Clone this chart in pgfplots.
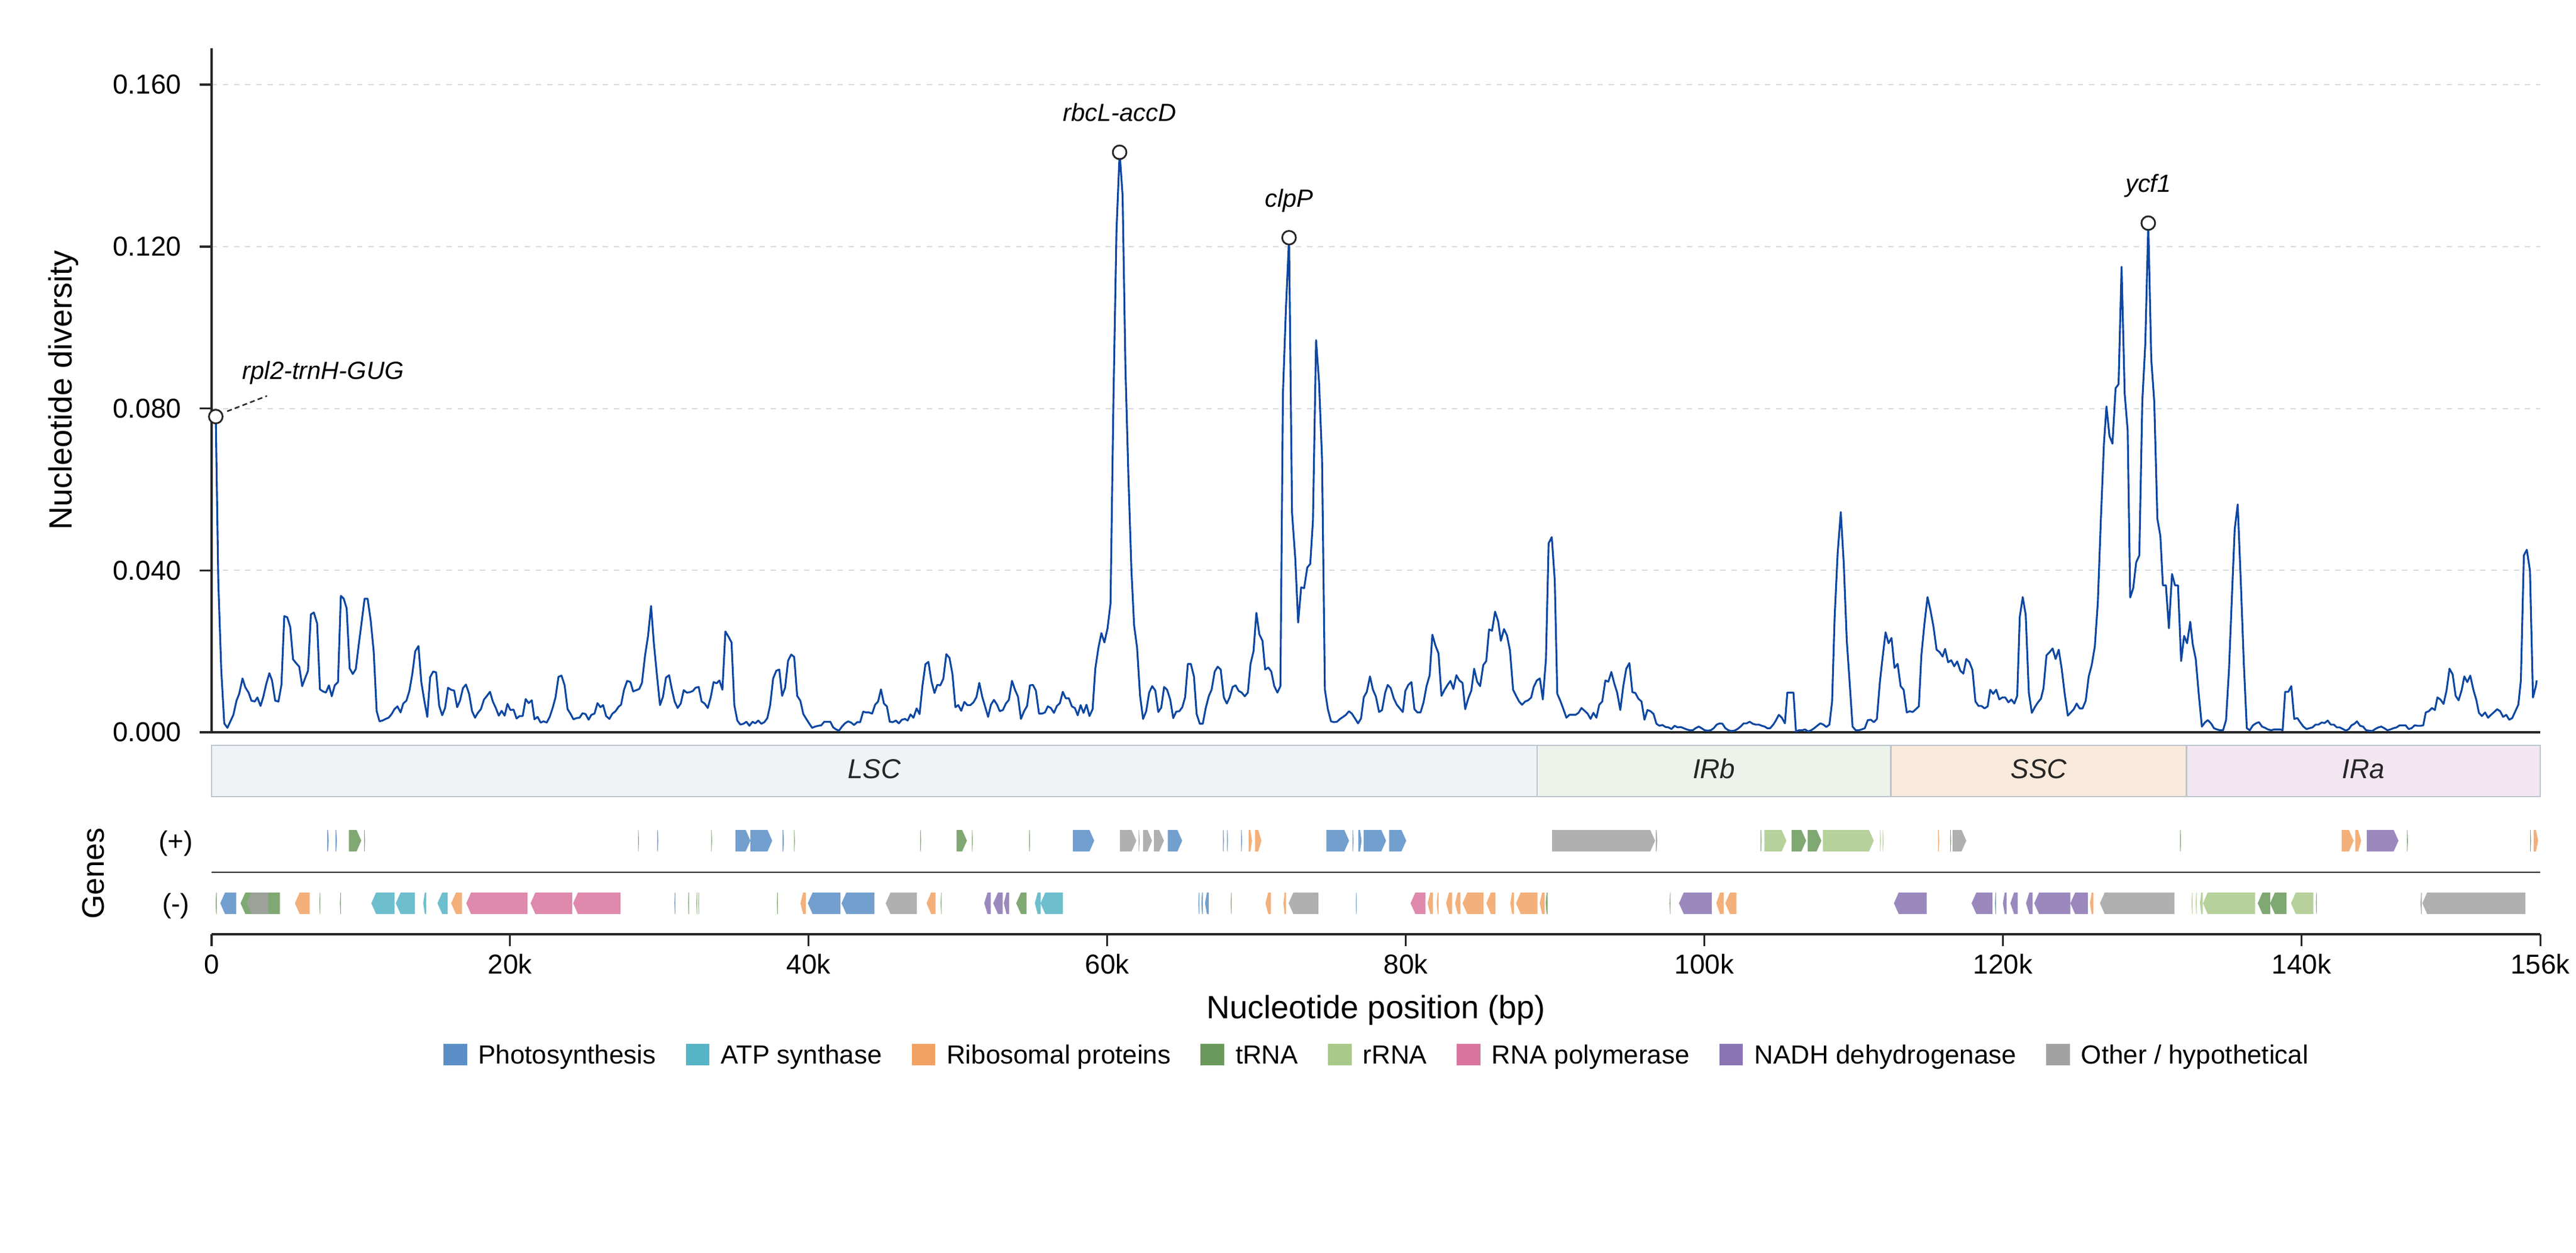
\documentclass[border=0pt]{standalone}
\usepackage{fontspec}
\setmainfont{Liberation Sans}
\usepackage{pgfplots}
\pgfplotsset{compat=1.18}

\definecolor{cLine}{HTML}{0D47A1}
\definecolor{cAxis}{HTML}{262626}
\definecolor{cGrid}{HTML}{D5DBE2}
\definecolor{cReg}{HTML}{BCC5CE}
\definecolor{rLSC}{HTML}{EFF3F6}
\definecolor{rIRb}{HTML}{EDF2EA}
\definecolor{rSSC}{HTML}{F9EADB}
\definecolor{rIRa}{HTML}{F2E7F1}
\definecolor{cPho}{HTML}{5B8EC6}
\definecolor{cAtp}{HTML}{55B4C5}
\definecolor{cRib}{HTML}{F1A263}
\definecolor{cTrn}{HTML}{6A995B}
\definecolor{cRrn}{HTML}{A9C98A}
\definecolor{cRpo}{HTML}{D9749F}
\definecolor{cNad}{HTML}{8A74B3}
\definecolor{cOth}{HTML}{A2A2A2}

% gene arrows: start (kb), end (kb), colour
\newcommand\gp[3]{%
  \pgfmathsetmacro\gt{#2-min(0.32,0.5*(#2-#1))}%
  \edef\temp{\noexpand\addplot[fill=#3, draw=none, fill opacity=0.85, forget plot]
    coordinates {(#1,139) (\gt,139) (#2,157) (\gt,175) (#1,175)} -- cycle;}%
  \temp}
\newcommand\gm[3]{%
  \pgfmathsetmacro\gt{#1+min(0.32,0.5*(#2-#1))}%
  \edef\temp{\noexpand\addplot[fill=#3, draw=none, fill opacity=0.85, forget plot]
    coordinates {(#2,34) (\gt,34) (#1,52) (\gt,70) (#2,70)} -- cycle;}%
  \temp}

\begin{document}
\begin{tikzpicture}
\useasboundingbox (0,0) rectangle (1037.28pt,504.48pt);

% ---- nucleotide diversity ----
\begin{axis}[
    at={(85.2pt,209.52pt)}, anchor=south west, scale only axis,
    width=937.68pt, height=275.52pt,
    xmin=0, xmax=156, ymin=0, ymax=0.169,
    axis x line*=bottom, axis y line*=left,
    axis line style={cAxis, line width=0.8pt},
    xtick=\empty,
    ytick={0,0.04,0.08,0.12,0.16},
    yticklabels={0.000,0.040,0.080,0.120,0.160},
    tick align=outside, major tick length=4.8pt,
    ytick style={cAxis, line width=0.8pt},
    yticklabel style={font=\fontsize{11}{13}\selectfont, anchor=east, inner sep=0pt, xshift=-7.2pt},
    ymajorgrids, grid style={cGrid, line width=0.5pt, dash pattern=on 2.2pt off 2.3pt},
    ylabel={Nucleotide diversity},
    every axis y label/.style={at={(axis description cs:-0.0635,0.5)}, rotate=90, anchor=center, font=\fontsize{13}{15}\selectfont},
    clip=false,
]
\addplot[cLine, line width=0.75pt, line join=round] coordinates {
(0.28,0.078) (0.45,0.037) (0.65,0.0152) (0.85,0.0022) (1.06,0.0011) (1.26,0.0027) (1.46,0.0043) (1.67,0.0078) (1.85,0.0095) (2.07,0.0133)
(2.26,0.0111) (2.48,0.0098) (2.67,0.0078) (2.89,0.0076) (3.07,0.0086) (3.28,0.0065) (3.46,0.0087) (3.66,0.0119) (3.87,0.0146) (4.05,0.0128)
(4.26,0.0078) (4.48,0.0076) (4.68,0.0117) (4.87,0.0287) (5.07,0.0284) (5.27,0.026) (5.46,0.018) (5.66,0.0171) (5.87,0.0162) (6.07,0.0114)
(6.26,0.0133) (6.46,0.0152) (6.65,0.0291) (6.85,0.0296) (7.07,0.0269) (7.26,0.0106) (7.46,0.0101) (7.66,0.0098) (7.86,0.0116) (8.05,0.0089)
(8.25,0.0116) (8.47,0.0124) (8.66,0.0337) (8.85,0.033) (9.05,0.0306) (9.25,0.0158) (9.46,0.0144) (9.66,0.0156) (9.85,0.0214) (10.05,0.0271)
(10.25,0.033) (10.45,0.033) (10.66,0.0276) (10.86,0.02) (11.06,0.0052) (11.25,0.0027) (11.45,0.0029) (11.66,0.0033) (11.86,0.0036) (12.06,0.0045)
(12.25,0.0057) (12.45,0.0064) (12.66,0.0049) (12.84,0.0071) (13.05,0.0078) (13.25,0.0102) (13.45,0.0145) (13.64,0.02) (13.86,0.0213) (14.05,0.0124)
(14.25,0.0078) (14.45,0.0038) (14.64,0.0136) (14.84,0.015) (15.04,0.0148) (15.25,0.0065) (15.45,0.0042) (15.64,0.006) (15.84,0.011) (16.04,0.0105)
(16.25,0.0103) (16.45,0.0062) (16.64,0.0078) (16.84,0.0109) (17.04,0.0118) (17.25,0.0095) (17.45,0.0052) (17.65,0.0036) (17.84,0.0048) (18.04,0.0057)
(18.25,0.0081) (18.45,0.009) (18.65,0.01) (18.84,0.0076) (19.04,0.006) (19.24,0.0041) (19.43,0.0053) (19.63,0.0041) (19.82,0.007) (20.02,0.0055)
(20.23,0.0056) (20.43,0.0034) (20.63,0.004) (20.84,0.004) (21.04,0.0082) (21.24,0.0072) (21.45,0.0079) (21.63,0.0032) (21.84,0.0038) (22.04,0.0024)
(22.24,0.0027) (22.45,0.0024) (22.65,0.0038) (22.84,0.0059) (23.04,0.0086) (23.24,0.0137) (23.44,0.014) (23.65,0.0116) (23.85,0.0057) (24.04,0.0046)
(24.24,0.0032) (24.44,0.0035) (24.65,0.0036) (24.85,0.0047) (25.05,0.0045) (25.26,0.0031) (25.44,0.0043) (25.65,0.0046) (25.85,0.0072) (26.05,0.0062)
(26.23,0.0067) (26.43,0.004) (26.65,0.0033) (26.85,0.0046) (27.06,0.0052) (27.26,0.0063) (27.43,0.0068) (27.63,0.0105) (27.84,0.0127) (28.06,0.0124)
(28.24,0.0101) (28.45,0.0104) (28.65,0.0107) (28.83,0.0122) (29.04,0.019) (29.24,0.0238) (29.44,0.0312) (29.63,0.0219) (29.83,0.0143) (30.04,0.0067)
(30.24,0.0088) (30.44,0.0135) (30.65,0.0141) (30.83,0.0107) (31.02,0.0076) (31.22,0.006) (31.43,0.0071) (31.63,0.0104) (31.83,0.0098) (32.04,0.0099)
(32.24,0.0102) (32.42,0.011) (32.63,0.0112) (32.83,0.0076) (33.03,0.0071) (33.24,0.006) (33.44,0.0087) (33.63,0.0124) (33.83,0.0121) (34.02,0.0128)
(34.22,0.0105) (34.42,0.0249) (34.63,0.0236) (34.83,0.0222) (35.02,0.0067) (35.22,0.0029) (35.42,0.0019) (35.63,0.0021) (35.83,0.0026) (36.03,0.0016)
(36.24,0.0026) (36.42,0.0022) (36.62,0.0029) (36.83,0.0021) (37.03,0.0025) (37.23,0.0035) (37.42,0.0067) (37.62,0.0133) (37.83,0.0152) (38.03,0.0155)
(38.22,0.009) (38.42,0.011) (38.62,0.0177) (38.83,0.0192) (39.03,0.0186) (39.23,0.009) (39.44,0.0078) (39.64,0.0045) (39.84,0.0033) (40.03,0.0022)
(40.23,0.0011) (40.43,0.0014) (40.64,0.0016) (40.84,0.0017) (41.04,0.0026) (41.25,0.0026) (41.45,0.0026) (41.64,0.0012) (41.84,0.0007) (42.03,0.0004)
(42.23,0.0014) (42.43,0.0022) (42.64,0.0027) (42.84,0.0024) (43.04,0.0018) (43.25,0.0025) (43.45,0.0025) (43.65,0.0051) (43.84,0.0049) (44.04,0.0049)
(44.25,0.0046) (44.45,0.0068) (44.65,0.0076) (44.84,0.0106) (45.04,0.0071) (45.24,0.0064) (45.43,0.0026) (45.63,0.0025) (45.84,0.0029) (46.04,0.0022)
(46.24,0.0031) (46.45,0.0033) (46.63,0.0029) (46.82,0.0044) (47.02,0.0036) (47.23,0.0059) (47.43,0.0045) (47.62,0.0114) (47.82,0.0168) (48.02,0.0174)
(48.23,0.0125) (48.43,0.0097) (48.61,0.0117) (48.82,0.0116) (49.02,0.0132) (49.22,0.0193) (49.43,0.0184) (49.63,0.0144) (49.83,0.0062) (50.02,0.0067)
(50.22,0.0053) (50.43,0.0075) (50.63,0.0067) (50.83,0.0067) (51.04,0.0074) (51.24,0.0087) (51.43,0.0122) (51.63,0.0087) (51.83,0.0062) (52.02,0.0038)
(52.21,0.0068) (52.41,0.008) (52.62,0.0068) (52.8,0.0052) (53.01,0.0055) (53.21,0.0071) (53.41,0.008) (53.62,0.0127) (53.82,0.0105) (54.02,0.0088)
(54.22,0.0033) (54.43,0.0052) (54.63,0.0065) (54.82,0.0116) (55.02,0.0117) (55.22,0.0103) (55.43,0.0046) (55.63,0.0046) (55.83,0.0049) (56.02,0.0064)
(56.22,0.006) (56.43,0.0048) (56.63,0.0065) (56.83,0.0072) (57.02,0.01) (57.22,0.0084) (57.43,0.0084) (57.63,0.0064) (57.83,0.006) (58.02,0.0042)
(58.22,0.0067) (58.41,0.0048) (58.61,0.0068) (58.81,0.004) (59.02,0.0057) (59.2,0.0157) (59.41,0.0209) (59.61,0.0245) (59.81,0.0222) (60.02,0.0257)
(60.22,0.0318) (60.42,0.083) (60.62,0.124) (60.83,0.1433) (61.03,0.1325) (61.22,0.09) (61.42,0.063) (61.62,0.04) (61.8,0.0264) (62.0,0.0209)
(62.2,0.009) (62.4,0.0033) (62.61,0.0052) (62.81,0.0098) (63.01,0.0114) (63.22,0.0103) (63.42,0.005) (63.62,0.0061) (63.81,0.0112) (64.01,0.0105)
(64.22,0.0081) (64.42,0.0035) (64.62,0.0051) (64.83,0.0052) (65.03,0.0062) (65.22,0.0087) (65.4,0.0169) (65.6,0.0169) (65.81,0.0138) (65.99,0.0045)
(66.2,0.0021) (66.4,0.0021) (66.6,0.006) (66.81,0.009) (66.99,0.0105) (67.2,0.015) (67.4,0.0162) (67.6,0.0155) (67.81,0.0086) (68.01,0.0071)
(68.2,0.0086) (68.4,0.0112) (68.6,0.0116) (68.81,0.0102) (69.01,0.0098) (69.21,0.0089) (69.42,0.0098) (69.6,0.0169) (69.8,0.02) (69.99,0.0295)
(70.19,0.0242) (70.4,0.0226) (70.58,0.0155) (70.79,0.016) (70.99,0.015) (71.19,0.0114) (71.4,0.0098) (71.6,0.0114) (71.77,0.0836) (71.97,0.1045)
(72.18,0.1222) (72.38,0.0542) (72.6,0.0428) (72.79,0.0271) (72.99,0.0358) (73.19,0.0356) (73.4,0.0407) (73.6,0.0416) (73.78,0.0523) (73.99,0.0969)
(74.19,0.0865) (74.39,0.0675) (74.58,0.0105) (74.78,0.0057) (74.99,0.0027) (75.19,0.0025) (75.39,0.0026) (75.6,0.0033) (75.8,0.0038) (75.99,0.0043)
(76.19,0.0052) (76.39,0.0046) (76.6,0.0034) (76.8,0.0022) (77.0,0.0034) (77.19,0.0087) (77.39,0.01) (77.6,0.0138) (77.8,0.0105) (78.0,0.0088)
(78.21,0.005) (78.41,0.0055) (78.62,0.0098) (78.79,0.0117) (78.99,0.0109) (79.19,0.0084) (79.4,0.0068) (79.6,0.0059) (79.8,0.005) (79.97,0.0102)
(80.17,0.0117) (80.38,0.0124) (80.58,0.0057) (80.78,0.0049) (80.99,0.0049) (81.19,0.0074) (81.39,0.0114) (81.6,0.0141) (81.78,0.0241) (81.99,0.0214)
(82.19,0.0195) (82.39,0.009) (82.6,0.0105) (82.8,0.0117) (82.99,0.0127) (83.19,0.0107) (83.39,0.0141) (83.59,0.0128) (83.8,0.0122) (83.98,0.0057)
(84.19,0.0084) (84.39,0.0103) (84.58,0.0157) (84.78,0.0125) (84.98,0.0114) (85.19,0.0166) (85.39,0.0176) (85.58,0.0254) (85.78,0.0251) (85.98,0.0298)
(86.19,0.0274) (86.37,0.0226) (86.58,0.0255) (86.78,0.0239) (86.98,0.0202) (87.19,0.0105) (87.39,0.009) (87.59,0.0076) (87.79,0.0068) (88.0,0.0076)
(88.2,0.0079) (88.4,0.0086) (88.57,0.0112) (88.78,0.0128) (88.98,0.0133) (89.18,0.0081) (89.39,0.0181) (89.57,0.0467) (89.78,0.0482) (89.98,0.0375)
(90.15,0.0095) (90.35,0.0078) (90.56,0.0057) (90.76,0.0036) (90.96,0.0043) (91.17,0.0043) (91.37,0.0043) (91.57,0.0048) (91.77,0.006) (91.98,0.0053)
(92.18,0.0046) (92.38,0.0033) (92.57,0.0048) (92.77,0.0036) (92.96,0.0068) (93.16,0.0076) (93.37,0.0128) (93.57,0.0125) (93.77,0.0149) (93.98,0.0119)
(94.16,0.0098) (94.37,0.0055) (94.57,0.0114) (94.77,0.0157) (94.98,0.0171) (95.18,0.0099) (95.38,0.0097) (95.58,0.0083) (95.79,0.0076) (95.99,0.0031)
(96.19,0.0055) (96.4,0.0052) (96.6,0.0045) (96.79,0.0021) (96.99,0.0016) (97.19,0.0018) (97.4,0.0013) (97.6,0.0012) (97.8,0.0008) (98.01,0.0016)
(98.21,0.0012) (98.41,0.0013) (98.62,0.001) (98.82,0.0007) (99.02,0.0005) (99.23,0.0005) (99.41,0.001) (99.62,0.0014) (99.82,0.001) (100.02,0.0005)
(100.22,0.0004) (100.43,0.0005) (100.63,0.001) (100.83,0.0019) (101.04,0.0022) (101.21,0.0021) (101.41,0.001) (101.61,0.0005) (101.82,0.0003) (102.02,0.0004)
(102.22,0.0008) (102.43,0.0014) (102.63,0.0022) (102.83,0.0022) (103.04,0.0026) (103.24,0.0021) (103.44,0.0019) (103.65,0.0019) (103.85,0.0016) (104.05,0.0014)
(104.21,0.001) (104.41,0.001) (104.62,0.0019) (104.79,0.0029) (104.99,0.0043) (105.19,0.0036) (105.4,0.0022) (105.56,0.0098) (105.77,0.0098) (105.97,0.0098)
(106.14,0.0002) (106.34,0.0005) (106.55,0.0005) (106.75,0.0007) (106.95,0.0002) (107.16,0.0005) (107.36,0.001) (107.56,0.0016) (107.77,0.0022) (107.97,0.0019)
(108.17,0.0013) (108.38,0.0019) (108.56,0.0076) (108.73,0.0285) (108.93,0.0442) (109.14,0.0544) (109.34,0.0418) (109.54,0.0228) (109.75,0.0114) (109.93,0.0014)
(110.14,0.0005) (110.34,0.0005) (110.54,0.0007) (110.75,0.001) (110.95,0.003) (111.15,0.0031) (111.36,0.0025) (111.56,0.0033) (111.76,0.0124) (111.93,0.0181)
(112.14,0.0247) (112.34,0.022) (112.54,0.0233) (112.74,0.0159) (112.95,0.0169) (113.15,0.0114) (113.35,0.0105) (113.56,0.0049) (113.76,0.0052) (113.96,0.005)
(114.17,0.0057) (114.37,0.0064) (114.54,0.019) (114.74,0.0266) (114.95,0.0334) (115.15,0.0301) (115.35,0.0261) (115.56,0.0204) (115.76,0.0198) (115.96,0.0187)
(116.13,0.0206) (116.33,0.0173) (116.54,0.0178) (116.74,0.0163) (116.94,0.0175) (117.15,0.0152) (117.35,0.0145) (117.55,0.0181) (117.76,0.0173) (117.96,0.0154)
(118.16,0.0076) (118.37,0.0065) (118.57,0.0065) (118.77,0.0059) (118.98,0.0064) (119.15,0.0105) (119.35,0.0095) (119.55,0.0105) (119.76,0.0081) (119.96,0.0086)
(120.16,0.0086) (120.37,0.0074) (120.57,0.0081) (120.77,0.0071) (120.96,0.009) (121.13,0.0285) (121.33,0.0334) (121.53,0.029) (121.74,0.0097) (121.94,0.0048)
(122.14,0.0062) (122.35,0.0074) (122.55,0.0083) (122.72,0.0109) (122.92,0.019) (123.13,0.0198) (123.33,0.0207) (123.53,0.0181) (123.74,0.0204) (123.94,0.0157)
(124.14,0.0095) (124.35,0.0041) (124.55,0.0049) (124.75,0.0057) (124.94,0.0071) (125.14,0.0059) (125.34,0.0059) (125.55,0.0078) (125.75,0.0138) (125.95,0.0166)
(126.16,0.0212) (126.36,0.0321) (126.56,0.0523) (126.77,0.0713) (126.94,0.0805) (127.14,0.0732) (127.34,0.0713) (127.55,0.085) (127.75,0.086) (127.95,0.115)
(128.16,0.0836) (128.36,0.0746) (128.53,0.0333) (128.73,0.0356) (128.93,0.042) (129.14,0.0437) (129.34,0.0817) (129.54,0.096) (129.74,0.1258) (129.94,0.0922)
(130.14,0.0817) (130.35,0.0527) (130.55,0.0485) (130.72,0.0363) (130.92,0.0363) (131.12,0.0257) (131.33,0.0391) (131.53,0.0363) (131.73,0.0363) (131.94,0.0176)
(132.14,0.0238) (132.34,0.022) (132.55,0.0273) (132.72,0.0217) (132.92,0.0181) (133.12,0.0095) (133.33,0.0014) (133.53,0.0024) (133.73,0.003) (133.94,0.0022)
(134.14,0.001) (134.34,0.0007) (134.55,0.0005) (134.75,0.0005) (134.95,0.003) (135.15,0.0157) (135.32,0.0314) (135.53,0.0502) (135.73,0.0563) (135.93,0.038)
(136.14,0.0171) (136.34,0.001) (136.54,0.0005) (136.75,0.0017) (136.95,0.0022) (137.15,0.0025) (137.36,0.0014) (137.56,0.0011) (137.76,0.0007) (137.97,0.0005)
(138.17,0.0007) (138.37,0.0007) (138.58,0.0007) (138.74,0.0005) (138.91,0.01) (139.12,0.01) (139.32,0.0114) (139.52,0.0033) (139.73,0.0035) (139.93,0.0024)
(140.13,0.0014) (140.34,0.0008) (140.54,0.001) (140.74,0.0012) (140.95,0.0019) (141.15,0.0019) (141.35,0.0024) (141.56,0.0023) (141.76,0.0029) (141.96,0.0019)
(142.17,0.0019) (142.37,0.0012) (142.57,0.0012) (142.78,0.0008) (142.98,0.0004) (143.18,0.0008) (143.35,0.0017) (143.55,0.0021) (143.72,0.0027) (143.93,0.0016)
(144.13,0.0014) (144.33,0.0005) (144.54,0.0004) (144.74,0.0003) (144.94,0.0008) (145.15,0.0012) (145.35,0.0014) (145.55,0.001) (145.76,0.0005) (145.96,0.0007)
(146.16,0.001) (146.37,0.0012) (146.57,0.0017) (146.77,0.0017) (146.98,0.0017) (147.18,0.0008) (147.38,0.001) (147.58,0.0017) (147.79,0.0016) (147.99,0.0016)
(148.16,0.0017) (148.33,0.0049) (148.53,0.0052) (148.74,0.006) (148.94,0.0055) (149.11,0.0086) (149.31,0.0081) (149.52,0.007) (149.72,0.0103) (149.92,0.0157)
(150.13,0.0143) (150.33,0.009) (150.53,0.0079) (150.74,0.0105) (150.91,0.0138) (151.11,0.0124) (151.31,0.014) (151.52,0.0105) (151.72,0.0079) (151.89,0.0048)
(152.09,0.004) (152.3,0.0049) (152.5,0.0036) (152.7,0.0043) (152.91,0.005) (153.11,0.0057) (153.31,0.0052) (153.51,0.0038) (153.72,0.0043) (153.92,0.0031)
(154.12,0.0035) (154.33,0.0052) (154.53,0.0068) (154.7,0.0128) (154.9,0.0437) (155.1,0.0451) (155.31,0.0399) (155.51,0.0086) (155.71,0.0115) (155.76,0.0128)
};
% leader line for the first label
\addplot[cAxis, line width=0.6pt, dash pattern=on 2pt off 1.3pt] coordinates {(1.04,0.0793) (3.71,0.0831)};
\addplot[only marks, mark=*, mark size=2.75pt, mark options={fill=white, draw=cAxis, line width=0.7pt}]
  coordinates {(0.28,0.078) (60.83,0.1433) (72.18,0.1222) (129.74,0.1258)};
\node[font=\itshape\fontsize{10}{12}\selectfont, anchor=base west] at (axis cs:1.48,0.0872) {rpl2-trnH-GUG};
\node[font=\itshape\fontsize{10}{12}\selectfont, anchor=base, yshift=12.4pt] at (axis cs:60.83,0.1433) {rbcL-accD};
\node[font=\itshape\fontsize{10}{12}\selectfont, anchor=base, yshift=12.4pt] at (axis cs:72.18,0.1222) {clpP};
\node[font=\itshape\fontsize{10}{12}\selectfont, anchor=base, yshift=12.4pt] at (axis cs:129.74,0.1258) {ycf1};
\end{axis}

% ---- genome regions ----
\begin{axis}[
    at={(85.2pt,183.6pt)}, anchor=south west, scale only axis,
    width=937.68pt, height=20.64pt,
    xmin=0, xmax=156, ymin=0, ymax=1, hide axis, clip=false,
]
\addplot[fill=rLSC, draw=cReg, line width=0.55pt] coordinates {(0,0) (88.8,0) (88.8,1) (0,1)} -- cycle;
\addplot[fill=rIRb, draw=cReg, line width=0.55pt] coordinates {(88.8,0) (112.5,0) (112.5,1) (88.8,1)} -- cycle;
\addplot[fill=rSSC, draw=cReg, line width=0.55pt] coordinates {(112.5,0) (132.3,0) (132.3,1) (112.5,1)} -- cycle;
\addplot[fill=rIRa, draw=cReg, line width=0.55pt] coordinates {(132.3,0) (156,0) (156,1) (132.3,1)} -- cycle;
\node[font=\itshape\fontsize{11}{13}\selectfont, text=cAxis, anchor=base] at (axis cs:44.4,0.36) {LSC};
\node[font=\itshape\fontsize{11}{13}\selectfont, text=cAxis, anchor=base] at (axis cs:100.65,0.36) {IRb};
\node[font=\itshape\fontsize{11}{13}\selectfont, text=cAxis, anchor=base] at (axis cs:122.4,0.36) {SSC};
\node[font=\itshape\fontsize{11}{13}\selectfont, text=cAxis, anchor=base] at (axis cs:144.15,0.36) {IRa};
\end{axis}

% ---- gene map ----
\begin{axis}[
    at={(85.2pt,128.16pt)}, anchor=south west, scale only axis,
    width=937.68pt, height=49.92pt,
    xmin=0, xmax=156, ymin=0, ymax=208,
    axis x line*=bottom, axis y line=none,
    axis line style={cAxis, line width=0.75pt},
    xtick={0,20,40,60,80,100,120,140,156},
    xticklabels={0,20k,40k,60k,80k,100k,120k,140k,156k},
    tick align=outside, major tick length=4.8pt,
    xtick style={cAxis, line width=0.75pt},
    xticklabel style={font=\fontsize{11}{13}\selectfont, anchor=base, inner sep=0pt, yshift=-11.04pt},
    xlabel={Nucleotide position (bp)},
    every axis x label/.style={at={(axis description cs:0.5,0)}, anchor=base, yshift=-33.84pt, font=\fontsize{13}{15}\selectfont},
    clip=false,
    legend columns=8,
    legend image code/.code={\fill[#1] (0pt,-4.1pt) rectangle (9.1pt,4.1pt);},
    legend style={at={(0.5,-0.9712)}, anchor=center, draw=none, fill=none, inner sep=0pt, outer sep=0pt,
        font=\fontsize{10.55}{13}\selectfont, nodes={inner sep=0pt, text height=7.55pt, text depth=0pt},
        /tikz/every odd column/.append style={column sep=4.56pt},
        /tikz/every even column/.append style={column sep=12pt}},
]
\addplot[cAxis, line width=0.6pt, forget plot] coordinates {(0,104) (156,104)};
% plus strand
\gp{7.75}{7.85}{cPho} \gp{8.3}{8.4}{cPho} \gp{9.2}{10.03}{cTrn} \gp{10.22}{10.28}{cTrn}
\gp{28.57}{28.63}{cTrn} \gp{29.85}{29.93}{cPho} \gp{33.47}{33.53}{cTrn}
\gp{35.1}{36.1}{cPho} \gp{36.1}{37.56}{cPho} \gp{38.26}{38.34}{cPho} \gp{39.02}{39.08}{cTrn}
\gp{47.47}{47.53}{cTrn} \gp{49.9}{50.6}{cTrn} \gp{50.93}{50.99}{cTrn} \gp{54.77}{54.83}{cTrn}
\gp{57.7}{59.13}{cPho} \gp{60.85}{61.95}{cOth} \gp{62.1}{62.17}{cOth} \gp{62.4}{63.0}{cOth}
\gp{63.13}{63.8}{cOth} \gp{64.06}{65.02}{cPho} \gp{67.75}{67.82}{cPho} \gp{68.02}{68.09}{cPho}
\gp{68.97}{69.04}{cPho} \gp{69.48}{69.7}{cRib} \gp{69.9}{70.33}{cRib}
\gp{74.68}{76.2}{cPho} \gp{76.44}{76.5}{cPho} \gp{76.83}{77.04}{cPho} \gp{77.18}{78.68}{cPho}
\gp{78.88}{80.03}{cPho} \gp{89.8}{96.7}{cOth} \gp{96.75}{96.85}{cOth}
\gp{103.77}{103.83}{cTrn} \gp{104.03}{105.5}{cRrn} \gp{105.84}{106.82}{cTrn} \gp{106.93}{107.84}{cTrn}
\gp{107.94}{111.35}{cRrn} \gp{111.77}{111.83}{cRrn} \gp{111.94}{112.0}{cRrn}
\gp{115.66}{115.74}{cRib} \gp{116.47}{116.53}{cTrn} \gp{116.63}{117.55}{cOth} \gp{131.87}{131.93}{cTrn}
\gp{142.7}{143.5}{cRib} \gp{143.6}{144.0}{cRib} \gp{144.38}{146.5}{cNad} \gp{147.07}{147.13}{cTrn}
\gp{155.32}{155.38}{cTrn} \gp{155.56}{155.86}{cRib}
% minus strand
\gm{0.27}{0.34}{cTrn} \gm{0.58}{1.65}{cPho} \gm{1.94}{4.58}{cTrn} \gm{2.36}{3.8}{cOth}
\gm{5.58}{6.57}{cRib} \gm{7.22}{7.28}{cTrn} \gm{8.6}{8.66}{cTrn}
\gm{10.7}{12.25}{cAtp} \gm{12.34}{13.62}{cAtp} \gm{14.18}{14.38}{cAtp} \gm{15.13}{15.81}{cAtp}
\gm{16.05}{16.77}{cRib} \gm{17.06}{21.16}{cRpo} \gm{21.37}{24.16}{cRpo} \gm{24.22}{27.4}{cRpo}
\gm{31.0}{31.07}{cPho} \gm{31.92}{31.98}{cTrn} \gm{32.47}{32.53}{cTrn} \gm{32.6}{32.65}{cTrn}
\gm{37.87}{37.93}{cTrn} \gm{39.45}{39.8}{cRib} \gm{39.94}{42.13}{cPho} \gm{42.2}{44.4}{cPho}
\gm{45.16}{47.25}{cOth} \gm{47.9}{48.5}{cRib} \gm{48.84}{48.9}{cTrn}
\gm{51.76}{52.2}{cNad} \gm{52.36}{53.0}{cNad} \gm{53.07}{53.43}{cNad} \gm{53.9}{54.6}{cTrn}
\gm{55.15}{55.53}{cAtp} \gm{55.53}{57.03}{cAtp}
\gm{66.1}{66.17}{cPho} \gm{66.3}{66.4}{cPho} \gm{66.55}{66.8}{cPho} \gm{68.27}{68.33}{cTrn}
\gm{70.6}{70.97}{cRib} \gm{71.8}{71.97}{cRib} \gm{72.15}{74.15}{cOth} \gm{76.65}{76.71}{cPho}
\gm{80.32}{81.32}{cRpo} \gm{81.46}{81.82}{cRib} \gm{82.07}{82.2}{cRib} \gm{82.7}{83.1}{cRib}
\gm{83.3}{83.66}{cRib} \gm{83.8}{85.2}{cRib} \gm{85.4}{86.0}{cRib} \gm{87.0}{87.25}{cRib}
\gm{87.38}{88.82}{cRib} \gm{88.97}{89.3}{cRib} \gm{89.37}{89.5}{cTrn}
\gm{97.67}{97.73}{cTrn} \gm{98.3}{100.5}{cNad} \gm{100.8}{101.3}{cRib} \gm{101.4}{102.15}{cRib}
\gm{112.7}{114.9}{cNad} \gm{117.9}{119.3}{cNad} \gm{119.47}{119.54}{cPho} \gm{120.0}{120.25}{cNad}
\gm{120.5}{121.0}{cNad} \gm{121.55}{121.99}{cNad} \gm{122.1}{124.52}{cNad} \gm{124.52}{125.7}{cNad}
\gm{125.83}{126.07}{cRib} \gm{126.5}{131.5}{cOth}
\gm{132.64}{132.7}{cRrn} \gm{132.92}{132.98}{cRrn} \gm{133.2}{133.38}{cRrn} \gm{133.4}{136.9}{cRrn}
\gm{137.07}{137.9}{cTrn} \gm{137.9}{139.0}{cTrn} \gm{139.3}{140.8}{cRrn} \gm{140.97}{141.03}{cTrn}
\gm{147.97}{148.07}{cOth} \gm{148.1}{155.0}{cOth}
% legend
\addlegendimage{cPho} \addlegendentry{Photosynthesis}
\addlegendimage{cAtp} \addlegendentry{ATP synthase}
\addlegendimage{cRib} \addlegendentry{Ribosomal proteins}
\addlegendimage{cTrn} \addlegendentry{tRNA}
\addlegendimage{cRrn} \addlegendentry{rRNA}
\addlegendimage{cRpo} \addlegendentry{RNA polymerase}
\addlegendimage{cNad} \addlegendentry{NADH dehydrogenase}
\addlegendimage{cOth} \addlegendentry{Other / hypothetical}
\node[font=\fontsize{11}{13}\selectfont, anchor=center] at (axis description cs:-0.01536,0.735) {(+)};
\node[font=\fontsize{11}{13}\selectfont, anchor=center] at (axis description cs:-0.01536,0.23) {(-)};
\node[font=\fontsize{12.5}{15}\selectfont, rotate=90, anchor=center] at (axis description cs:-0.0507,0.49) {Genes};
\end{axis}
\end{tikzpicture}
\end{document}
